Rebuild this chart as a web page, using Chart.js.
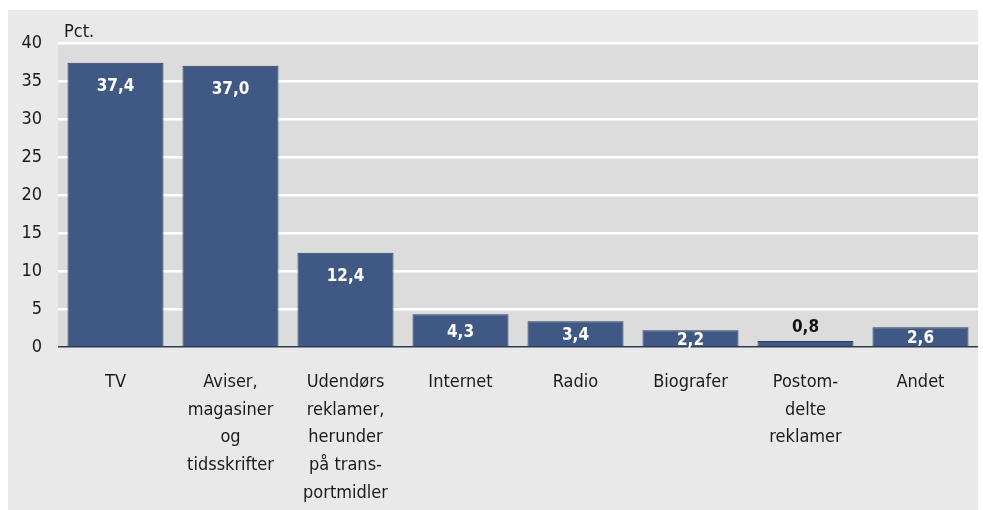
<!DOCTYPE html>
<html>
<head>
<meta charset="utf-8">
<script src="https://cdn.jsdelivr.net/npm/chart.js@4"></script>
<style>
  body { margin: 0; background: #fff; }
  #chart { position: absolute; left: 8px; top: 10px; background: #e9e9e9; }
</style>
</head>
<body>
<canvas id="chart" width="970" height="500"></canvas>
<script>
// === Data ===
const categories = [
  ["TV"],
  ["Aviser,", "magasiner", "og", "tidsskrifter"],
  ["Udendørs", "reklamer,", "herunder", "på trans-", "portmidler"],
  ["Internet"],
  ["Radio"],
  ["Biografer"],
  ["Postom-", "delte", "reklamer"],
  ["Andet"],
];
const shares = [37.4, 37.0, 12.4, 4.3, 3.4, 2.2, 0.8, 2.6];
const yTicks = [0, 5, 10, 15, 20, 25, 30, 35, 40];
const unitLabel = "Pct.";

const FONT = "'DejaVu Sans Condensed', 'Liberation Sans Narrow', sans-serif";

// plot background + unit label
const backdrop = {
  id: "backdrop",
  beforeDraw(chart) {
    const { ctx, chartArea: a } = chart;
    ctx.save();
    ctx.fillStyle = "#dcdcdc";
    ctx.fillRect(a.left, a.top, a.right - a.left, a.bottom - a.top);
    ctx.fillStyle = "#1a1a1a";
    ctx.font = "18px " + FONT;
    ctx.textBaseline = "middle";
    ctx.fillText(unitLabel, a.left + 6, a.top - 11);
    ctx.restore();
  },
};

// value labels, comma decimals
const valueLabels = {
  id: "valueLabels",
  afterDatasetsDraw(chart) {
    const { ctx } = chart;
    const meta = chart.getDatasetMeta(0);
    ctx.save();
    ctx.font = "bold 17px " + FONT;
    ctx.textAlign = "center";
    ctx.textBaseline = "middle";
    meta.data.forEach((bar, i) => {
      const v = shares[i];
      const text = v.toFixed(1).replace(".", ",");
      let y;
      if (v < 1) {
        ctx.fillStyle = "#111";
        y = bar.y - 13;
      } else {
        ctx.fillStyle = "#fff";
        y = Math.min(bar.y + 24, (bar.y + bar.base) / 2 + 2);
      }
      ctx.fillText(text, bar.x, y);
    });
    ctx.restore();
  },
};

new Chart(document.getElementById("chart"), {
  type: "bar",
  data: {
    labels: categories,
    datasets: [
      {
        data: shares,
        backgroundColor: "#3f5884",
        borderColor: "#2b3a57",
        borderWidth: 1,
        barPercentage: 0.835,
        categoryPercentage: 1,
      },
    ],
  },
  options: {
    responsive: false,
    animation: false,
    layout: { padding: { top: 33, right: 0, left: 0, bottom: 0 } },
    plugins: { legend: false, tooltip: false },
    scales: {
      x: {
        grid: { display: false, drawTicks: false },
        border: { display: false },
        ticks: {
          color: "#1a1a1a",
          padding: 21,
          maxRotation: 0,
          autoSkip: false,
          font: { family: FONT, size: 18, lineHeight: 1.55 },
        },
        afterFit(scale) { scale.height = 163; },
      },
      y: {
        min: 0,
        max: 40,
        afterBuildTicks(scale) { scale.ticks = yTicks.map((v) => ({ value: v })); },
        grid: {
          color: (c) => (c.tick.value === 0 ? "#2b3a57" : "#ffffff"),
          lineWidth: (c) => (c.tick.value === 0 ? 1.5 : 2.5),
          drawTicks: false,
        },
        border: { display: false },
        ticks: {
          color: "#1a1a1a",
          padding: 16,
          font: { family: FONT, size: 18 },
        },
        afterFit(scale) { scale.width = 50; },
      },
    },
  },
  plugins: [backdrop, valueLabels],
});
</script>
</body>
</html>
